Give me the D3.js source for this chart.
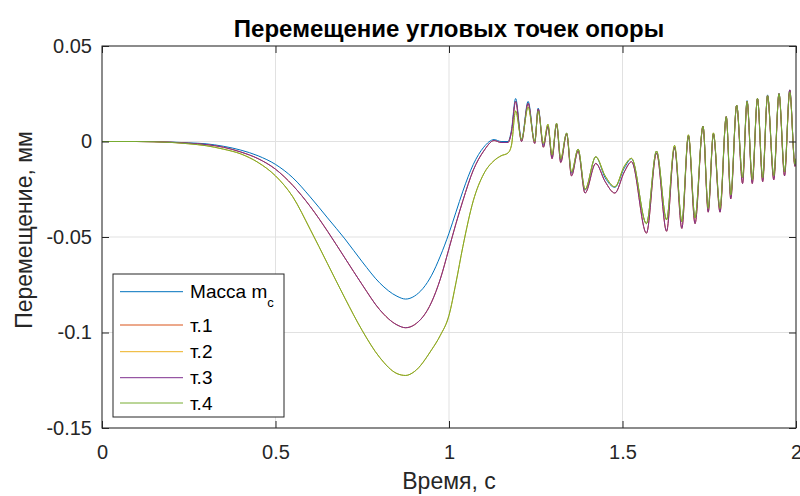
<!DOCTYPE html>
<html lang="ru">
<head>
    <meta charset="UTF-8">
    <script src="https://d3js.org/d3.v7.min.js"></script>
    <title>Перемещение угловых точек опоры</title>
    <style>
        body { margin: 0; background: #fff; }
        text { font-family: "Liberation Sans", Arial, Helvetica, sans-serif; }
    </style>
</head>
<body>
    <script>
        // время, с
        var time = [0, 0.1, 0.2, 0.25, 0.3, 0.35, 0.4, 0.45, 0.5, 0.55, 0.6, 0.65, 0.7, 0.75, 0.8, 0.85, 0.875, 0.9, 0.95, 0.975,
            1.0, 1.02, 1.04, 1.07, 1.1, 1.13, 1.15, 1.17, 1.18, 1.192, 1.209, 1.228, 1.247, 1.257, 1.272, 1.285, 1.297, 1.31, 1.322,
            1.339, 1.353, 1.372, 1.392, 1.423, 1.45, 1.478, 1.505, 1.526, 1.569, 1.598, 1.627, 1.65, 1.671, 1.69, 1.709, 1.732,
            1.747, 1.762, 1.781, 1.799, 1.812, 1.829, 1.846, 1.859, 1.874, 1.889, 1.904, 1.918, 1.936, 1.951, 1.967, 1.982, 1.997, 2.0]

        // масса m_c
        var massValues = [0, 0, -0.0003, -0.0007, -0.0012, -0.0025, -0.0045, -0.0075, -0.012, -0.019, -0.029, -0.040, -0.051,
            -0.063, -0.074, -0.081, -0.0825, -0.081, -0.070, -0.060,
            -0.048, -0.037, -0.026, -0.012, -0.003, 0.001, 0.0, 0.0, 0.006, 0.0225, 0.001, 0.021, 0.000, 0.0175, -0.002, 0.008,
            -0.008, 0.0095, -0.0097, 0.0044, -0.0166, -0.004, -0.0254, -0.008, -0.019, -0.024, -0.014, -0.009, -0.043, -0.005,
            -0.041, -0.003, -0.042, 0.003, -0.040, 0.008, -0.035, 0.004, -0.035, 0.013, -0.028, 0.019, -0.019, 0.0214, -0.020,
            0.0226, -0.019, 0.0244, -0.018, 0.0252, -0.016, 0.027, -0.012, -0.009]

        // т.1 и т.3
        var point13Values = [0, 0, -0.0004, -0.0009, -0.0016, -0.003, -0.0055, -0.009, -0.0145, -0.023, -0.034, -0.047, -0.061,
            -0.075, -0.088, -0.096, -0.0975, -0.096, -0.084, -0.072,
            -0.056, -0.043, -0.031, -0.015, -0.005, 0.0005, -0.0005, -0.0005, 0.005, 0.021, 0.000, 0.020, -0.001, 0.017, -0.003,
            0.008, -0.009, 0.009, -0.011, 0.004, -0.018, -0.005, -0.027, -0.0115, -0.021, -0.027, -0.016, -0.0106, -0.048, -0.006,
            -0.047, -0.003, -0.0455, 0.003, -0.043, 0.008, -0.037, 0.004, -0.037, 0.013, -0.030, 0.019, -0.022, 0.021, -0.022,
            0.0225, -0.021, 0.024, -0.020, 0.025, -0.018, 0.027, -0.013, -0.010]

        // т.2 и т.4
        var point24Values = [0, 0, -0.0005, -0.0012, -0.0022, -0.004, -0.0065, -0.011, -0.018, -0.029, -0.046, -0.064, -0.082,
            -0.099, -0.113, -0.1215, -0.1225, -0.1205, -0.109, -0.1015,
            -0.091, -0.074, -0.055, -0.031, -0.017, -0.010, -0.0075, -0.006, -0.002, 0.016, 0.001, 0.018, 0.000, 0.016, -0.001,
            0.009, -0.007, 0.0095, -0.009, 0.0044, -0.016, -0.004, -0.025, -0.008, -0.018, -0.0237, -0.013, -0.0088, -0.043, -0.005,
            -0.041, -0.002, -0.042, 0.0035, -0.040, 0.008, -0.035, 0.0045, -0.035, 0.013, -0.028, 0.019, -0.019, 0.021, -0.020,
            0.0226, -0.019, 0.024, -0.018, 0.025, -0.016, 0.026, -0.012, -0.009]

        var seriesNames = ["Масса m", "т.1", "т.2", "т.3", "т.4"]
        var seriesColors = ["#0072BD", "#D95319", "#EDB120", "#7E2F8E", "#77AC30"]
        var seriesValues = [massValues, point13Values, point24Values, point13Values, point24Values]

        var xTicks = [0, 0.5, 1, 1.5, 2]
        var xTickLabels = ["0", "0.5", "1", "1.5", "2"]
        var yTicks = [-0.15, -0.1, -0.05, 0, 0.05]
        var yTickLabels = ["-0.15", "-0.1", "-0.05", "0", "0.05"]

        var width = 800
        var height = 496
        var padding = { top: 46, right: 4, bottom: 68, left: 102 }
        var axisColor = "#262626"

        var svg = d3.select("body")
            .append("svg")
            .attr("width", width)
            .attr("height", height)

        var x = d3.scaleLinear()
            .domain([0, 2])
            .range([padding.left, width - padding.right])
        var y = d3.scaleLinear()
            .domain([-0.15, 0.05])
            .range([height - padding.bottom, padding.top])

        // сетка
        svg.append("g")
            .selectAll("line")
            .data(xTicks)
            .enter()
            .append("line")
            .attr("x1", function (d) { return x(d) })
            .attr("x2", function (d) { return x(d) })
            .attr("y1", y.range()[1])
            .attr("y2", y.range()[0])
            .attr("stroke", "#e1e1e1")
        svg.append("g")
            .selectAll("line")
            .data(yTicks)
            .enter()
            .append("line")
            .attr("y1", function (d) { return y(d) })
            .attr("y2", function (d) { return y(d) })
            .attr("x1", x.range()[0])
            .attr("x2", x.range()[1])
            .attr("stroke", "#e1e1e1")

        svg.append("clipPath")
            .attr("id", "plot-clip")
            .append("rect")
            .attr("x", x.range()[0])
            .attr("y", y.range()[1])
            .attr("width", x.range()[1] - x.range()[0])
            .attr("height", y.range()[0] - y.range()[1])

        var line = d3.line()
            .x(function (d, i) { return x(time[i]) })
            .y(function (d) { return y(d) })
            .curve(d3.curveMonotoneX)

        svg.append("g")
            .attr("clip-path", "url(#plot-clip)")
            .selectAll("path")
            .data(seriesValues)
            .enter()
            .append("path")
            .attr("d", function (d) { return line(d) })
            .attr("fill", "none")
            .attr("stroke", function (d, i) { return seriesColors[i] })
            .attr("stroke-width", 1)

        // оси
        function styleAxis(g) {
            g.select(".domain").remove()
            g.selectAll(".tick line").attr("stroke", axisColor)
            g.selectAll(".tick text")
                .attr("fill", axisColor)
                .attr("font-size", "20px")
        }

        svg.append("g")
            .attr("transform", "translate(0," + y.range()[0] + ")")
            .call(d3.axisBottom(x).tickValues(xTicks).tickSize(-7).tickPadding(17)
                .tickFormat(function (d, i) { return xTickLabels[i] }))
            .call(styleAxis)
        svg.append("g")
            .attr("transform", "translate(0," + y.range()[1] + ")")
            .call(d3.axisTop(x).tickValues(xTicks).tickSize(-7).tickFormat(""))
            .call(styleAxis)
        svg.append("g")
            .attr("transform", "translate(" + x.range()[0] + ",0)")
            .call(d3.axisLeft(y).tickValues(yTicks).tickSize(-7).tickPadding(10)
                .tickFormat(function (d, i) { return yTickLabels[i] }))
            .call(styleAxis)
        svg.append("g")
            .attr("transform", "translate(" + x.range()[1] + ",0)")
            .call(d3.axisRight(y).tickValues(yTicks).tickSize(-7).tickFormat(""))
            .call(styleAxis)

        svg.append("rect")
            .attr("x", x.range()[0])
            .attr("y", y.range()[1])
            .attr("width", x.range()[1] - x.range()[0])
            .attr("height", y.range()[0] - y.range()[1])
            .attr("fill", "none")
            .attr("stroke", axisColor)
            .attr("stroke-width", 1)

        // подписи
        svg.append("text")
            .attr("x", (x.range()[0] + x.range()[1]) / 2)
            .attr("y", 37)
            .attr("text-anchor", "middle")
            .attr("font-size", "24px")
            .attr("font-weight", "bold")
            .attr("fill", "#000")
            .text("Перемещение угловых точек опоры")

        svg.append("text")
            .attr("x", (x.range()[0] + x.range()[1]) / 2)
            .attr("y", 489)
            .attr("text-anchor", "middle")
            .attr("font-size", "23px")
            .attr("fill", axisColor)
            .text("Время, с")

        svg.append("text")
            .attr("transform", "translate(32,230) rotate(-90)")
            .attr("text-anchor", "middle")
            .attr("font-size", "23px")
            .attr("fill", axisColor)
            .text("Перемещение, мм")

        // легенда
        var legendY = [291.7, 325, 351.7, 377.7, 403]
        var legend = svg.append("g")
        legend.append("rect")
            .attr("x", 113)
            .attr("y", 274)
            .attr("width", 171)
            .attr("height", 143)
            .attr("fill", "#fff")
            .attr("stroke", axisColor)

        var item = legend.selectAll("g.item")
            .data(seriesNames)
            .enter()
            .append("g")
            .attr("class", "item")
            .attr("transform", function (d, i) { return "translate(0," + legendY[i] + ")" })
        item.append("line")
            .attr("x1", 120)
            .attr("x2", 183)
            .attr("stroke", function (d, i) { return seriesColors[i] })
            .attr("stroke-width", 1)
        var label = item.append("text")
            .attr("x", 190)
            .attr("dy", "0.35em")
            .attr("font-size", "19px")
            .attr("fill", "#000")
            .text(function (d) { return d })
        label.filter(function (d, i) { return i === 0 })
            .append("tspan")
            .attr("dy", "9")
            .attr("font-size", "13px")
            .text("c")
    </script>
</body>
</html>
